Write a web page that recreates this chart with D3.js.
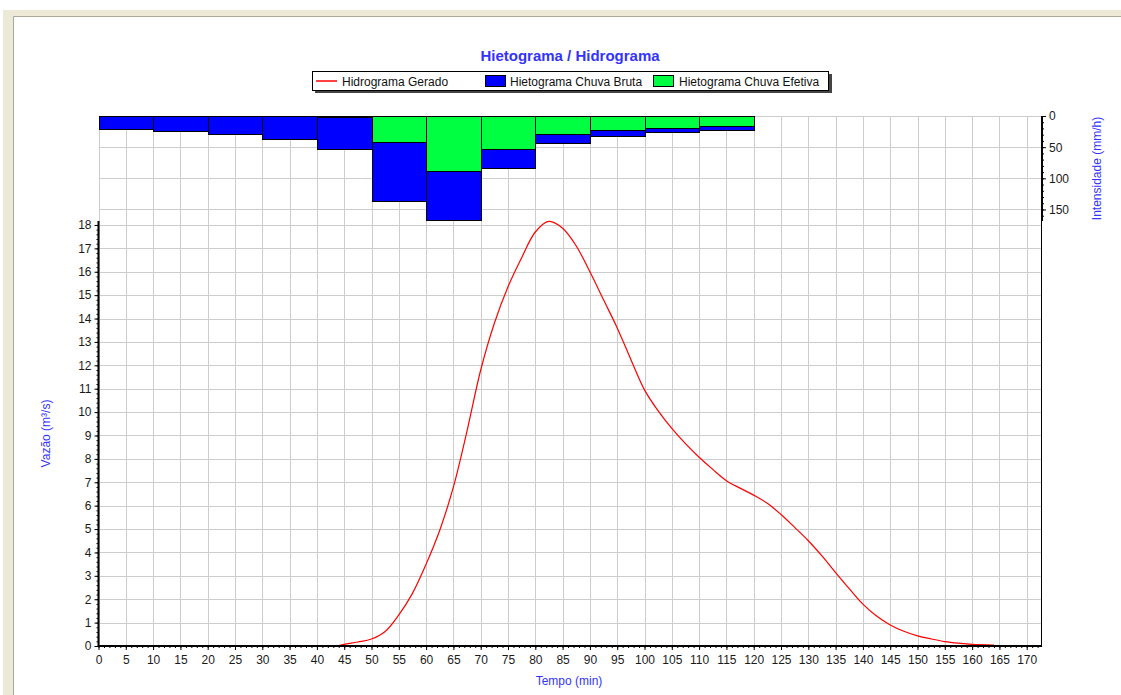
<!DOCTYPE html>
<html>
<head>
<meta charset="utf-8">
<script src="https://cdn.jsdelivr.net/npm/d3@7"></script>
<style>
  body { margin: 0; background: #fff; }
  svg { display: block; font-family: 'Liberation Sans', Arial, sans-serif; }
</style>
</head>
<body>
<div id="chart"></div>
<script>
// hietograma (blocos de 10 min)
const binStart = [0, 10, 20, 30, 40, 50, 60, 70, 80, 90, 100, 110];
const chuvaBruta = [21.5, 25.3, 30, 37.6, 53.7, 138, 167.5, 84.4, 44, 33.3, 26.9, 23.1];
const chuvaEfetiva = [0, 0, 0, 0, 2, 42.5, 88.7, 53.7, 30.1, 22.6, 19.4, 16.1];

// hidrograma gerado
const tempoHid = [44, 45, 47.5, 50, 52.5, 55, 57.5, 60, 62.5, 65, 67.5, 70, 72.5, 75, 77.5, 80, 82.5, 85,
  87.5, 90, 92.5, 95, 97.5, 100, 102.5, 105, 107.5, 110, 112.5, 115, 117.5, 120, 122.5, 125, 127.5,
  130, 132.5, 135, 137.5, 140, 142.5, 145, 147.5, 150, 152.5, 155, 157.5, 160, 164];
const vazaoHid = [0.02, 0.07, 0.17, 0.3, 0.62, 1.33, 2.25, 3.5, 4.95, 6.8, 9.2, 11.8, 13.8, 15.36, 16.6, 17.7, 18.15, 17.86,
  17.1, 16.0, 14.8, 13.6, 12.25, 10.95, 10.05, 9.3, 8.65, 8.07, 7.55, 7.07, 6.75, 6.45, 6.1, 5.62, 5.07,
  4.5, 3.85, 3.14, 2.45, 1.79, 1.28, 0.9, 0.63, 0.43, 0.3, 0.19, 0.12, 0.07, 0.04];

const xTicks = d3.range(0, 171, 5);
const qTicks = d3.range(0, 19, 1);
const iTicks = [0, 50, 100, 150];

const legendItems = ['Hidrograma Gerado', 'Hietograma Chuva Bruta', 'Hietograma Chuva Efetiva'];

const width = 1121,
  height = 695;
const blue = '#3333ff';
const gridColor = '#cdcdcd';
const labelColor = '#1a1a1a';

const svg = d3.select('#chart').append('svg').attr('width', width).attr('height', height);

// moldura da janela
svg.append('rect').attr('width', width).attr('height', height).attr('fill', '#fff');
svg.append('rect').attr('x', 3).attr('y', 10).attr('width', width - 3).attr('height', 7).attr('fill', '#ece9d8');
svg.append('rect').attr('x', 3).attr('y', 10).attr('width', 11).attr('height', height - 10).attr('fill', '#ece9d8');
svg.append('line').attr('x1', 13.5).attr('x2', width).attr('y1', 16.5).attr('y2', 16.5).attr('stroke', '#aca899');
svg.append('line').attr('x1', 13.5).attr('x2', 13.5).attr('y1', 16.5).attr('y2', height).attr('stroke', '#aca899');

const xTime = d3.scaleLinear().domain([0, 172.8]).range([98.5, 1042]);
const yInt = d3.scaleLinear().domain([0, 168.5]).range([116, 221]);
const yQ = d3.scaleLinear().domain([0, 18.17]).range([646, 221]);

// grade
const grid = svg.append('g').attr('stroke', gridColor).attr('stroke-width', 1).attr('shape-rendering', 'crispEdges');
grid
  .selectAll('line.v')
  .data(xTicks)
  .join('line')
  .attr('class', 'v')
  .attr('x1', (d) => Math.round(xTime(d)) + 0.5)
  .attr('x2', (d) => Math.round(xTime(d)) + 0.5)
  .attr('y1', yInt(0))
  .attr('y2', yQ(0));
grid
  .selectAll('line.hq')
  .data(qTicks.slice(1))
  .join('line')
  .attr('class', 'hq')
  .attr('x1', xTime(0))
  .attr('x2', xTime.range()[1])
  .attr('y1', (d) => Math.round(yQ(d)) + 0.5)
  .attr('y2', (d) => Math.round(yQ(d)) + 0.5);
grid
  .selectAll('line.hi')
  .data(iTicks)
  .join('line')
  .attr('class', 'hi')
  .attr('x1', xTime(0))
  .attr('x2', xTime.range()[1])
  .attr('y1', (d) => Math.round(yInt(d)) + 0.5)
  .attr('y2', (d) => Math.round(yInt(d)) + 0.5);

// barras do hietograma
const bars = binStart.map((t, i) => ({ t, bruta: chuvaBruta[i], efetiva: chuvaEfetiva[i] }));
const barG = svg.append('g').attr('stroke', '#000').attr('stroke-width', 1).attr('shape-rendering', 'crispEdges');
barG
  .selectAll('rect.bruta')
  .data(bars)
  .join('rect')
  .attr('class', 'bruta')
  .attr('x', (d) => Math.round(xTime(d.t)) + 0.5)
  .attr('y', yInt(0))
  .attr('width', (d) => Math.round(xTime(d.t + 10)) - Math.round(xTime(d.t)))
  .attr('height', (d) => yInt(d.bruta) - yInt(0))
  .attr('fill', '#0000ff');
barG
  .selectAll('rect.efetiva')
  .data(bars.filter((d) => d.efetiva > 0))
  .join('rect')
  .attr('class', 'efetiva')
  .attr('x', (d) => Math.round(xTime(d.t)) + 0.5)
  .attr('y', yInt(0))
  .attr('width', (d) => Math.round(xTime(d.t + 10)) - Math.round(xTime(d.t)))
  .attr('height', (d) => yInt(d.efetiva) - yInt(0))
  .attr('fill', '#00ff40');

// hidrograma
const hid = tempoHid.map((t, i) => ({ t, q: vazaoHid[i] }));
svg
  .append('path')
  .datum(hid)
  .attr('fill', 'none')
  .attr('stroke', '#ff0000')
  .attr('stroke-width', 1.2)
  .attr(
    'd',
    d3
      .line()
      .x((d) => xTime(d.t))
      .y((d) => yQ(d.q))
      .curve(d3.curveCatmullRom.alpha(0.5))
  );

// eixos
function styleAxis(g) {
  g.select('.domain').remove();
  g.selectAll('.tick line').attr('stroke', '#000');
  g.selectAll('.tick text').attr('fill', labelColor).attr('font-size', 12).attr('font-family', null);
}

svg
  .append('g')
  .attr('transform', `translate(0,${yQ(0)})`)
  .call(d3.axisBottom(xTime).tickValues(d3.range(0, 173, 1)).tickSize(2).tickFormat(''))
  .call(styleAxis);
svg
  .append('g')
  .attr('transform', `translate(0,${yQ(0)})`)
  .call(d3.axisBottom(xTime).tickValues(xTicks).tickSize(4).tickPadding(5))
  .call(styleAxis);

svg
  .append('g')
  .attr('transform', `translate(${xTime(0)},0)`)
  .call(d3.axisLeft(yQ).tickValues(d3.range(0, 18.1, 0.2)).tickSize(2).tickFormat(''))
  .call(styleAxis);
svg
  .append('g')
  .attr('transform', `translate(${xTime(0)},0)`)
  .call(d3.axisLeft(yQ).tickValues(qTicks).tickSize(4).tickPadding(3))
  .call(styleAxis);

const xRight = xTime.range()[1];
svg
  .append('g')
  .attr('transform', `translate(${xRight},0)`)
  .call(d3.axisRight(yInt).tickValues(d3.range(0, 169, 10)).tickSize(2).tickFormat(''))
  .call(styleAxis);
svg
  .append('g')
  .attr('transform', `translate(${xRight},0)`)
  .call(d3.axisRight(yInt).tickValues(iTicks).tickSize(4).tickPadding(3))
  .call(styleAxis);

// linhas dos eixos
const axisLines = svg.append('g').attr('stroke', '#000');
axisLines.append('line').attr('x1', xTime(0) - 0.5).attr('x2', xRight).attr('y1', yQ(0)).attr('y2', yQ(0)).attr('stroke-width', 2);
axisLines.append('line').attr('x1', xTime(0)).attr('x2', xTime(0)).attr('y1', yQ.range()[1]).attr('y2', yQ(0)).attr('stroke-width', 2);
axisLines.append('line').attr('x1', xRight).attr('x2', xRight).attr('y1', yInt(0)).attr('y2', yInt.range()[1]).attr('stroke-width', 2);
axisLines.append('line').attr('x1', xRight - 0.5).attr('x2', xRight - 0.5).attr('y1', yQ.range()[1]).attr('y2', yQ(0)).attr('stroke-width', 1);

// títulos
svg
  .append('text')
  .attr('x', 570)
  .attr('y', 61)
  .attr('text-anchor', 'middle')
  .attr('font-size', 15)
  .attr('font-weight', 'bold')
  .attr('fill', blue)
  .text('Hietograma / Hidrograma');

svg
  .append('text')
  .attr('x', 569)
  .attr('y', 685)
  .attr('text-anchor', 'middle')
  .attr('font-size', 12)
  .attr('fill', blue)
  .text('Tempo (min)');

svg
  .append('text')
  .attr('transform', `translate(50,${(yQ.range()[0] + yQ.range()[1]) / 2}) rotate(-90)`)
  .attr('text-anchor', 'middle')
  .attr('font-size', 12)
  .attr('fill', blue)
  .text('Vazão (m³/s)');

svg
  .append('text')
  .attr('transform', `translate(1101,${(yInt.range()[0] + yInt.range()[1]) / 2}) rotate(-90)`)
  .attr('text-anchor', 'middle')
  .attr('font-size', 12)
  .attr('fill', blue)
  .text('Intensidade (mm/h)');

// legenda
const legend = svg.append('g');
legend.append('rect').attr('x', 315).attr('y', 74).attr('width', 517).attr('height', 19).attr('fill', '#444');
legend
  .append('rect')
  .attr('x', 312.5)
  .attr('y', 71.5)
  .attr('width', 516)
  .attr('height', 19)
  .attr('fill', '#fff')
  .attr('stroke', '#000');
legend
  .append('line')
  .attr('x1', 316)
  .attr('x2', 337)
  .attr('y1', 81)
  .attr('y2', 81)
  .attr('stroke', '#ff0000')
  .attr('stroke-width', 1.5);
legend
  .append('rect')
  .attr('x', 485.5)
  .attr('y', 75.5)
  .attr('width', 20)
  .attr('height', 11)
  .attr('fill', '#0000ff')
  .attr('stroke', '#000');
legend
  .append('rect')
  .attr('x', 653.5)
  .attr('y', 75.5)
  .attr('width', 20)
  .attr('height', 11)
  .attr('fill', '#00ff40')
  .attr('stroke', '#000');
const legendX = [342, 510, 679];
legend
  .selectAll('text')
  .data(legendItems)
  .join('text')
  .attr('x', (d, i) => legendX[i])
  .attr('y', 85.5)
  .attr('font-size', 12)
  .attr('fill', '#111')
  .text((d) => d);
</script>
</body>
</html>
